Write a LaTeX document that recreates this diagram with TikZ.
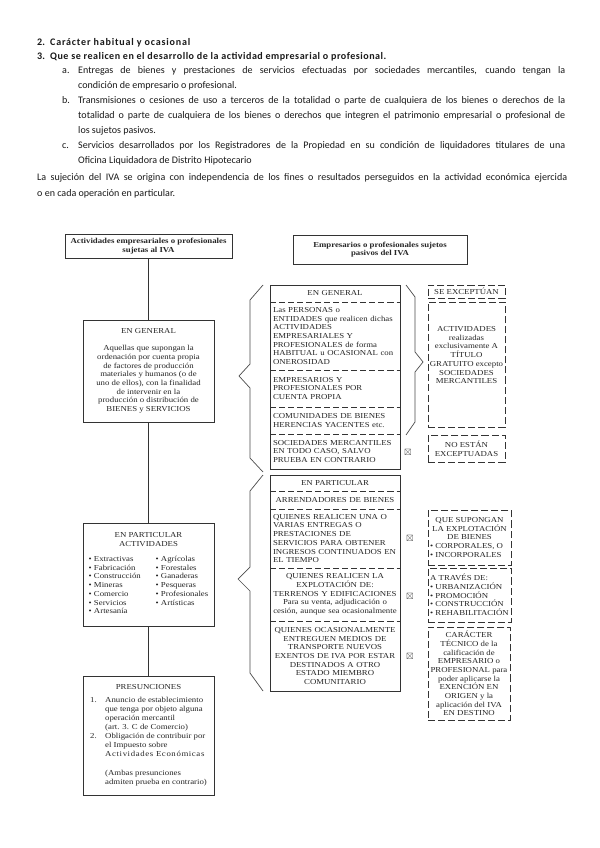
\documentclass[tikz,border=0pt]{standalone}
\usepackage{amssymb}
\usepackage{fontspec}
\usetikzlibrary{positioning}
\setmainfont{Carlito}
\newfontfamily\diagfont[FakeStretch=1.15]{Liberation Serif}
\newdimen\pxu
\pxu=0.035cm
\newcommand{\dfont}{\diagfont\fontsize{7.6}{8.66}\selectfont}
\newcommand{\tfont}{\fontsize{10}{14.94}\selectfont}
\newcommand{\fl}[2]{\makebox[#1\pxu][s]{#2}}
\tikzset{
	box/.style={draw=black!80, line width=0.8pt, inner sep=0, outer sep=0, align=center, font=\dfont, text=black!85},
	dbox/.style={box, dash pattern=on 7pt off 3pt},
	sec/.style={anchor=north, inner xsep=3\pxu, inner ysep=0, outer sep=0, text width=124\pxu, font=\dfont, text=black!85},
	sep/.style={draw=black!80, line width=0.8pt, dash pattern=on 6pt off 3pt},
	frame/.style={draw=black!80, line width=0.8pt},
	brace/.style={draw=black!70, line width=0.7pt},
	txt/.style={anchor=base west, inner sep=0, font=\tfont, text=black!90},
	signo/.style={inner sep=0, text=black!75, font=\fontsize{9}{9}\selectfont}
}
\newcommand{\drawbox}{\node[box]}
\newcommand{\drawdash}{\node[dbox]}
\newcommand{\drawsec}{\node[sec]}

\begin{document}
\begin{tikzpicture}[x=0.035cm, y=-0.035cm]
	
	\fill[white] (0,0) rectangle (599,848);
	\useasboundingbox (0,0) rectangle (599,848);
	
	% texto de arriba
	\node[txt] (n2) at (37,46) {\textbf{2.}};
	\node[txt] (i2) at (50,46) {\addfontfeature{LetterSpace=8}\textbf{Carácter habitual y ocasional}};
	\node[txt] (n3) at (37,60) {\textbf{3.}};
	\node[txt] (i3) at (50,60) {\addfontfeature{LetterSpace=5}\textbf{Que se realicen en el desarrollo de la actividad empresarial o profesional.}};
	\node[txt] (na) at (62,74) {a.};
	\node[txt] (a1) at (78,74) {\fl{487}{Entregas de bienes y prestaciones de servicios efectuadas por sociedades mercantiles, cuando tengan la}};
	\node[txt] (a2) at (78,89) {condición de empresario o profesional.};
	\node[txt] (nb) at (62,104) {b.};
	\node[txt] (b1) at (78,104) {\fl{487}{Transmisiones o cesiones de uso a terceros de la totalidad o parte de cualquiera de los bienes o derechos de la}};
	\node[txt] (b2) at (78,119) {\fl{487}{totalidad o parte de cualquiera de los bienes o derechos que integren el patrimonio empresarial o profesional de}};
	\node[txt] (b3) at (78,134) {los sujetos pasivos.};
	\node[txt] (nc) at (62,149) {c.};
	\node[txt] (c1) at (78,149) {\fl{487}{Servicios desarrollados por los Registradores de la Propiedad en su condición de liquidadores titulares de una}};
	\node[txt] (c2) at (78,164) {Oficina Liquidadora de Distrito Hipotecario};
	\node[txt] (l1) at (n2.base west |- 0,181) {\fl{530}{La sujeción del IVA se origina con independencia de los fines o resultados perseguidos en la actividad económica ejercida}};
	\node[txt] (l2) at (n2.base west |- 0,196) {o en cada operación en particular.};
	
	% columna izquierda
	\drawbox (tl) at (148.5,246) [minimum width=167\pxu, minimum height=24\pxu] {\bfseries Actividades empresariales o profesionales\\ \bfseries sujetas al IVA};
	\drawbox (lg) at (148.5,371) [minimum width=131\pxu, minimum height=102\pxu] {EN GENERAL\\[8\pxu]
		Aquellas que supongan la\\ordenación por cuenta propia\\de factores de producción\\materiales y humanos (o de\\uno de ellos), con la finalidad\\de intervenir en la\\producción o distribución de\\BIENES y SERVICIOS};
	\drawbox (lp) at (148.5,574.5) [minimum width=131\pxu, minimum height=103\pxu] {EN PARTICULAR\\ACTIVIDADES\\[8\pxu]
		\begin{tabular}{@{}p{67\pxu}@{}l@{}}
			\textbullet\ Extractivas & \textbullet\ Agrícolas\\
			\textbullet\ Fabricación & \textbullet\ Forestales\\
			\textbullet\ Construcción & \textbullet\ Ganaderas\\
			\textbullet\ Mineras & \textbullet\ Pesqueras\\
			\textbullet\ Comercio & \textbullet\ Profesionales\\
			\textbullet\ Servicios & \textbullet\ Artísticas\\
			\textbullet\ Artesanía & 
		\end{tabular}};
	\drawbox (pr) at (148.5,735.5) [minimum width=131\pxu, minimum height=119\pxu] {PRESUNCIONES\\[6\pxu]
		\renewcommand{\arraystretch}{1.04}%
		\begin{tabular}{@{}p{15\pxu}@{}l@{}}
			1. & Anuncio de establecimiento\\
			& que tenga por objeto alguna\\
			& operación mercantil\\
			& (art. 3. C de Comercio)\\
			2. & Obligación de contribuir por\\
			& el Impuesto sobre\\
			& {\addfontfeature{LetterSpace=8}Actividades Económicas}\\
			& \\
			& (Ambas presunciones\\
			& admiten prueba en contrario)
		\end{tabular}};
	
	\draw[frame] (tl) -- (lg);
	\draw[frame] (lg) -- (lp);
	\draw[frame] (lp) -- (pr);
	
	% columna derecha
	\drawbox (tr) at (380,249.5) [minimum width=174\pxu, minimum height=29\pxu] {\bfseries Empresarios o profesionales sujetos\\ \bfseries pasivos del IVA};
	
	\drawsec (g1) at (335,285) [minimum height=17\pxu, align=center] {EN GENERAL};
	\drawsec (g2) [below=0pt of g1, minimum height=68\pxu, align=left] {Las PERSONAS o\\ENTIDADES que realicen dichas\\ACTIVIDADES\\EMPRESARIALES Y\\PROFESIONALES de forma\\HABITUAL u OCASIONAL con\\ONEROSIDAD};
	\drawsec (g3) [below=0pt of g2, minimum height=37\pxu, align=left] {EMPRESARIOS Y\\PROFESIONALES POR\\CUENTA PROPIA};
	\drawsec (g4) [below=0pt of g3, minimum height=27\pxu, align=left] {COMUNIDADES DE BIENES\\HERENCIAS YACENTES etc.};
	\drawsec (g5) [below=0pt of g4, minimum height=35\pxu, align=left] {SOCIEDADES MERCANTILES\\EN TODO CASO, SALVO\\PRUEBA EN CONTRARIO};
	
	\drawsec (p1) at (335,475) [minimum height=16\pxu, align=center] {EN PARTICULAR};
	\drawsec (p2) [below=0pt of p1, minimum height=18\pxu, align=center] {ARRENDADORES DE BIENES};
	\drawsec (p3) [below=0pt of p2, minimum height=59\pxu, align=left] {QUIENES REALICEN UNA O\\VARIAS ENTREGAS O\\PRESTACIONES DE\\SERVICIOS PARA OBTENER\\INGRESOS CONTINUADOS EN\\EL TIEMPO};
	\drawsec (p4) [below=0pt of p3, minimum height=53\pxu, align=center] {QUIENES REALICEN LA\\EXPLOTACIÓN DE:\\TERRENOS Y EDIFICACIONES\\Para su venta, adjudicación o\\cesión, aunque sea ocasionalmente};
	\drawsec (p5) [below=0pt of p4, minimum height=70\pxu, align=center] {QUIENES OCASIONALMENTE\\ENTREGUEN MEDIOS DE\\TRANSPORTE NUEVOS\\EXENTOS DE IVA POR ESTAR\\DESTINADOS A OTRO\\ESTADO MIEMBRO\\COMUNITARIO};
	
	\draw[frame] (g1.north west) rectangle (g5.south east);
	\draw[frame] (p1.north west) rectangle (p5.south east);
	\foreach \s in {g1,g2,g3,g4,p1,p2,p3,p4}
		\draw[sep] (\s.south west) -- (\s.south east);
	
	% llaves
	\draw[brace] (263,285) -- (250,300) -- (250,364) -- (239,376) -- (250,388) -- (250,458) -- (263,472);
	\draw[brace] (406,285) -- (415,297) -- (415,352) -- (423,362) -- (415,372) -- (415,422) -- (406,435);
	\draw[brace] (263,475) -- (250,491) -- (250,567) -- (238,579) -- (250,591) -- (250,673) -- (263,691);
	
	% excepciones
	\drawdash (e1) at (466.5,291.5) [minimum width=77\pxu, minimum height=13\pxu] {SE EXCEPTÚAN};
	\drawdash (e2) at (466.5,364.5) [minimum width=77\pxu, minimum height=125\pxu] {ACTIVIDADES\\realizadas\\exclusivamente A\\TÍTULO\\GRATUITO excepto\\SOCIEDADES\\MERCANTILES\\[10\pxu]};
	\drawdash (e3) at (466.5,448.5) [minimum width=77\pxu, minimum height=27\pxu] {NO ESTÁN\\EXCEPTUADAS};
	
	\drawdash (d1) at (469.5,537.5) [minimum width=83\pxu, minimum height=55\pxu] {QUE SUPONGAN\\LA EXPLOTACIÓN\\DE BIENES\\
		\makebox[79\pxu][l]{\textbullet\ CORPORALES, O}\\\makebox[79\pxu][l]{\textbullet\ INCORPORALES}};
	\drawdash (d2) at (469.5,595) [minimum width=83\pxu, minimum height=54\pxu, align=left] {A TRAVÉS DE:\\\textbullet\ URBANIZACIÓN\\\textbullet\ PROMOCIÓN\\\textbullet\ CONSTRUCCIÓN\\\textbullet\ REHABILITACIÓN};
	\drawdash (d3) at (469,673.5) [minimum width=82\pxu, minimum height=93\pxu] {CARÁCTER\\TÉCNICO de la\\calificación de\\EMPRESARIO o\\PROFESIONAL para\\poder aplicarse la\\EXENCIÓN EN\\ORIGEN y la\\aplicación del IVA\\EN DESTINO};
	
	\node[signo] (x1) at (408,452) {$\boxtimes$};
	\node[signo] (x2) at (410,538) {$\boxtimes$};
	\node[signo] (x3) at (410,596) {$\boxtimes$};
	\node[signo] (x4) at (410,656) {$\boxtimes$};
	
\end{tikzpicture}
\end{document}
